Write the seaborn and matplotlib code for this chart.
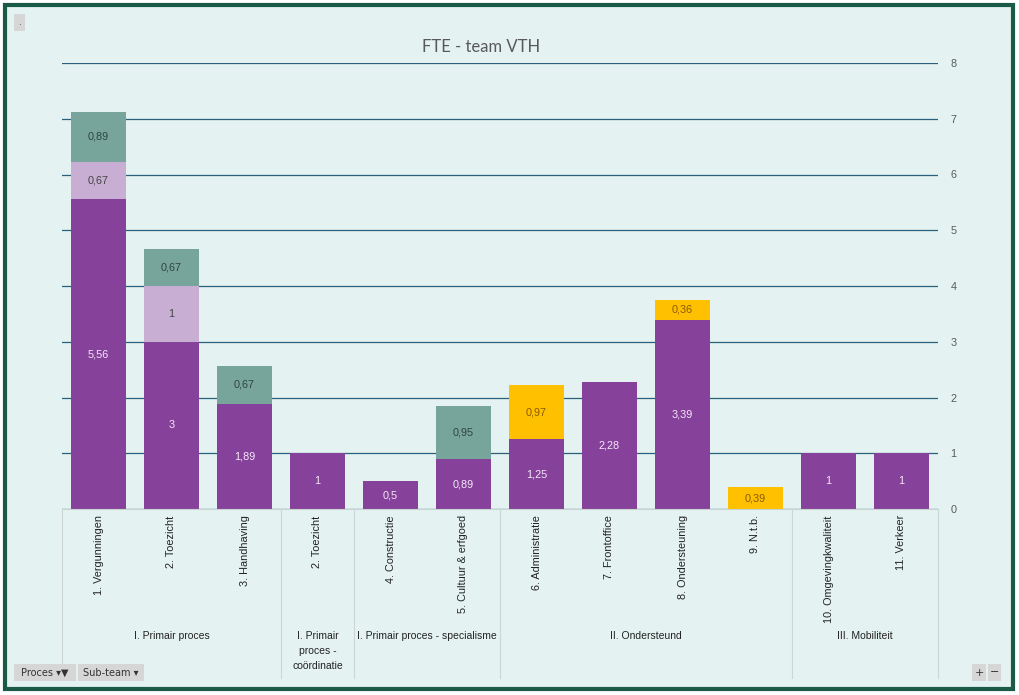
import matplotlib
matplotlib.use("Agg")
import matplotlib.pyplot as plt
import matplotlib.transforms as mtransforms
from matplotlib.patches import Rectangle
from matplotlib.lines import Line2D
import seaborn as sns
import pandas as pd

categories = ["1. Vergunningen", "2. Toezicht", "3. Handhaving", "2. Toezicht",
              "4. Constructie", "5. Cultuur & erfgoed", "6. Administratie",
              "7. Frontoffice", "8. Ondersteuning", "9. N.t.b.",
              "10. Omgevingkwaliteit", "11. Verkeer"]
groups = ["I. Primair proces", "I. Primair proces", "I. Primair proces",
          "I. Primair\nproces -\ncoördinatie",
          "I. Primair proces - specialisme", "I. Primair proces - specialisme",
          "II. Ondersteund", "II. Ondersteund", "II. Ondersteund", "II. Ondersteund",
          "III. Mobiliteit", "III. Mobiliteit"]
s_purple = [5.56, 3, 1.89, 1, 0.5, 0.89, 1.25, 2.28, 3.39, 0, 1, 1]
s_light = [0.67, 1, 0, 0, 0, 0, 0, 0, 0, 0, 0, 0]
s_teal = [0.89, 0.67, 0.67, 0, 0, 0.95, 0, 0, 0, 0, 0, 0]
s_yellow = [0, 0, 0, 0, 0, 0, 0.97, 0, 0.36, 0.39, 0, 0]
y_ticks = [0, 1, 2, 3, 4, 5, 6, 7, 8]
title = "FTE - team VTH"

BG = "#e4f3f1"
series = [
    (s_purple, "#86419a", "#f6e9f8"),
    (s_light, "#c8aed3", "#444444"),
    (s_teal, "#78a59b", "#2f4540"),
    (s_yellow, "#ffc000", "#8a5a00"),
]

keys = [f"{i}" for i in range(len(categories))]
cum = []
run = [0.0] * len(categories)
for vals, _, _ in series:
    run = [r + v for r, v in zip(run, vals)]
    cum.append(list(run))

W, H = 1019, 695
fig = plt.figure(figsize=(W / 100, H / 100), dpi=100)
fig.patch.set_facecolor("white")
# frame
frame = Rectangle((5 / W, 1 - 689 / H), 1008 / W, 684 / H,
                  transform=fig.transFigure, facecolor=BG,
                  edgecolor="#1b5a47", linewidth=3, zorder=-10)
fig.patches.append(frame)

ax = fig.add_axes([62 / W, 1 - 509 / H, 876 / W, 446 / H])
ax.set_facecolor("none")
ax.set_zorder(1)

# overdraw cumulative heights, top layer first
for layer in range(len(series) - 1, -1, -1):
    df = pd.DataFrame({"key": keys, "val": cum[layer]})
    sns.barplot(data=df, x="key", y="val", order=keys, color=series[layer][1],
                width=0.75, saturation=1, ax=ax, zorder=3, linewidth=0)

# labels
for layer, (vals, col, tcol) in enumerate(series):
    for i, v in enumerate(vals):
        if v > 0:
            bottom = cum[layer][i] - v
            txt = f"{v:g}".replace(".", ",")
            ax.text(i, bottom + v / 2, txt, ha="center", va="center",
                    fontsize=7.8, color=tcol, family="Liberation Sans", zorder=5)

ax.set_ylim(0, 8)
ax.set_xlim(-0.5, len(categories) - 0.5)
ax.set_yticks(y_ticks)
ax.yaxis.tick_right()
ax.tick_params(axis="y", length=0, pad=9, labelsize=7.8, labelcolor="#595959")
ax.grid(axis="y", color="#2a5f7e", linewidth=0.9, zorder=1)
ax.set_axisbelow(True)
for sp in ["top", "left", "right"]:
    ax.spines[sp].set_visible(False)
ax.spines["bottom"].set_color("#c9d3d1")
ax.spines["bottom"].set_zorder(4)
ax.set_xlabel("")
ax.set_ylabel("")
ax.set_xticks(range(len(categories)))
ax.set_xticklabels(categories, rotation=90, va="top", ha="center",
                   fontsize=7.8, family="Liberation Sans", color="#222222")
ax.tick_params(axis="x", length=0, pad=4.5)
for lab in ax.get_yticklabels():
    lab.set_family("Liberation Sans")

# group labels and separators
trans = mtransforms.blended_transform_factory(ax.transData, fig.transFigure)
bounds = [-0.5]
start = 0
spans = []
for i in range(1, len(groups) + 1):
    if i == len(groups) or groups[i] != groups[start]:
        spans.append((start, i - 1, groups[start]))
        bounds.append(i - 0.5)
        start = i
for s, e, g in spans:
    ax.text((s + e) / 2, 1 - 631 / H, g, transform=trans, ha="center", va="top",
            fontsize=7.5, family="Liberation Sans", color="#222222",
            linespacing=1.6, clip_on=False)
for b in bounds:
    fig.add_artist(Line2D([b, b], [1 - 509 / H, 1 - 678 / H], transform=trans,
                          color="#cdd6d4", linewidth=0.8))

fig.text(481 / W, 1 - 46.5 / H, title, ha="center", va="center", fontsize=12,
         family="Lato", color="#595959")

# buttons
def button(x0, y0, x1, y1, label, fs=7.5):
    fig.patches.append(Rectangle((x0 / W, 1 - y1 / H), (x1 - x0) / W, (y1 - y0) / H,
                                 transform=fig.transFigure, facecolor="#d6d6d6",
                                 edgecolor="none", zorder=5))
    if label:
        fig.text((x0 + x1) / 2 / W, 1 - (y0 + y1) / 2 / H, label, ha="center",
                 va="center", fontsize=fs, family="DejaVu Sans", color="#333333",
                 zorder=6)

button(14, 14, 25, 31, ".", 6)
button(14, 664, 76, 681, "Proces ▾▼", 7)
button(78, 664, 144, 681, "Sub-team ▾", 7)
button(972, 664, 986, 681, "+", 8)
button(988, 664, 1001, 681, "−", 8)

fig.savefig("out.png", dpi=100, facecolor=fig.get_facecolor())
